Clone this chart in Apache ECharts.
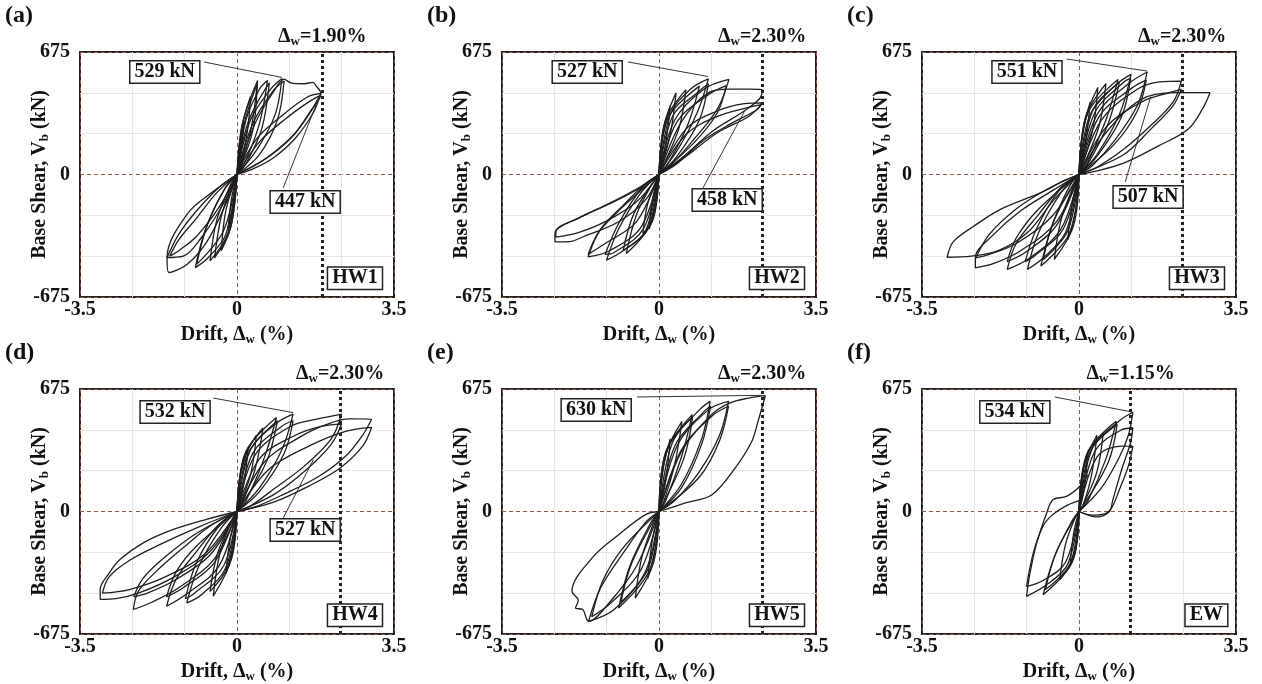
<!DOCTYPE html>
<html>
<head>
<meta charset="utf-8">
<script src="https://cdn.jsdelivr.net/npm/echarts@6/dist/echarts.min.js"></script>
<style>
  html, body { margin: 0; background: #fff; }
  #chart { width: 1262px; height: 684px; }
</style>
</head>
<body>
<div id="chart"></div>
<script>
// axis ticks
const xTicks = [-3.5, 0, 3.5];
const yTicks = [-675, 0, 675];

const panelLetters = ["(a)", "(b)", "(c)", "(d)", "(e)", "(f)"];
const specimens = ["HW1", "HW2", "HW3", "HW4", "HW5", "EW"];
const driftLimits = [1.9, 2.3, 2.3, 2.3, 2.3, 1.15];

// peak labels: [text, box centre, leader start, leader tip]
const hw1Notes = [["529 kN", [-1.61, 565], [-0.74, 620], [1.0, 535]], ["447 kN", [1.52, -152], [1.03, -74], [1.85, 438]]];
const hw2Notes = [["527 kN", [-1.6, 565], [-0.69, 620], [1.09, 540]], ["458 kN", [1.52, -140], [0.98, -74], [1.92, 355]]];
const hw3Notes = [["551 kN", [-1.16, 565], [-0.27, 636], [1.52, 570]], ["507 kN", [1.54, -124], [1.03, -41], [1.6, 430]]];
const hw4Notes = [["532 kN", [-1.38, 548], [-0.53, 625], [1.25, 545]], ["527 kN", [1.52, -102], [1.03, -36], [1.7, 284]]];
const hw5Notes = [["630 kN", [-1.4, 559], [-0.49, 631], [2.3, 640]]];
const ewNotes = [["534 kN", [-1.43, 548], [-0.54, 631], [1.19, 548]]];
const tagPos = [[2.63, -572], [2.63, -572], [2.63, -572], [2.63, -572], [2.63, -572], [2.84, -572]];

// hysteresis loops (drift %, base shear kN)
const hw1Loops = [
  [[0,0],[0.06,160],[0.15,290],[0.1,140],[0,0]],
  [[0,0],[0.1,250],[0.3,430],[0.22,220],[0,0]],
  [[0,0],[0.12,280],[0.46,518],[0.32,260],[0.1,60],[0,0]],
  [[0,0],[0.15,270],[0.45,500],[0.35,240],[0,0]],
  [[0,0],[0.2,300],[0.5,470],[0.68,518],[0.5,280],[0.2,80],[0,0]],
  [[0,0],[0.25,290],[0.72,505],[0.55,250],[0.2,60],[0,0]],
  [[0,0],[0.3,300],[0.75,470],[1.0,529],[0.85,330],[0.45,140],[0,0]],
  [[0,0],[0.35,280],[0.8,460],[1.05,515],[0.9,300],[0.5,110],[0,0]],
  [[0,0],[0.4,280],[0.85,470],[1.05,525],[1.2,505],[1.5,500],[1.69,508],[1.76,490],[1.87,447],[1.65,353],[1.28,224],[0.68,95],[0.23,30],[0,0]],
  [[0,0],[0.45,200],[1.05,334],[1.57,427],[1.87,447],[1.6,330],[1.2,200],[0.6,80],[0,0]],
  [[0,0],[0.5,180],[1.1,310],[1.6,400],[1.85,435],[1.7,340],[1.3,200],[0.8,90],[0.3,25],[0,0]],
  [[0,0],[-0.08,-170],[-0.2,-300],[-0.12,-130],[0,0]],
  [[0,0],[-0.12,-270],[-0.35,-420],[-0.25,-200],[0,0]],
  [[0,0],[-0.15,-300],[-0.5,-460],[-0.35,-230],[-0.1,-50],[0,0]],
  [[0,0],[-0.2,-320],[-0.6,-476],[-0.45,-250],[-0.15,-60],[0,0]],
  [[0,0],[-0.25,-330],[-0.65,-460],[-0.93,-513],[-0.7,-300],[-0.3,-90],[0,0]],
  [[0,0],[-0.3,-310],[-0.9,-495],[-0.65,-270],[-0.25,-70],[0,0]],
  [[0,0],[-0.22,-145],[-0.66,-366],[-1.11,-495],[-1.52,-540],[-1.56,-458],[-1.11,-218],[-0.51,-90],[0,0]],
  [[0,0],[-0.3,-160],[-0.8,-350],[-1.2,-450],[-1.56,-458],[-1.3,-330],[-0.9,-200],[-0.4,-70],[0,0]],
  [[0,0],[-0.4,-180],[-0.9,-340],[-1.3,-420],[-1.5,-450],[-1.3,-360],[-0.9,-240],[-0.45,-100],[0,0]]
];

const hw2Loops = [
  [[0,0],[0.08,200],[0.25,380],[0.15,170],[0,0]],
  [[0,0],[0.1,260],[0.38,450],[0.25,220],[0,0]],
  [[0,0],[0.15,300],[0.6,468],[0.45,260],[0.1,50],[0,0]],
  [[0,0],[0.2,310],[0.9,487],[0.65,280],[0.2,60],[0,0]],
  [[0,0],[0.25,330],[0.7,470],[1.1,527],[0.85,340],[0.4,130],[0,0]],
  [[0,0],[0.3,320],[0.9,460],[1.1,500],[0.9,300],[0.4,100],[0,0]],
  [[0,0],[0.35,300],[1.0,470],[1.56,524],[1.3,360],[0.8,200],[0.3,60],[0,0]],
  [[0,0],[0.4,290],[1.1,440],[1.5,490],[1.3,340],[0.8,180],[0,0]],
  [[0,0],[0.5,290],[1.1,450],[1.56,470],[2.0,470],[2.3,468],[2.25,420],[1.9,350],[1.2,240],[0.5,90],[0,0]],
  [[0,0],[0.6,250],[1.3,350],[1.9,390],[2.3,395],[2.2,360],[1.6,280],[1.0,190],[0.4,60],[0,0]],
  [[0,0],[0.6,220],[1.3,320],[2.0,370],[2.28,385],[2.0,320],[1.3,230],[0.6,100],[0,0]],
  [[0,0],[-0.08,-190],[-0.22,-300],[-0.14,-130],[0,0]],
  [[0,0],[-0.12,-240],[-0.36,-325],[-0.25,-160],[0,0]],
  [[0,0],[-0.2,-280],[-0.73,-435],[-0.5,-220],[-0.15,-50],[0,0]],
  [[0,0],[-0.25,-300],[-0.8,-420],[-0.55,-210],[0,0]],
  [[0,0],[-0.3,-310],[-0.8,-420],[-1.17,-472],[-0.9,-300],[-0.4,-100],[0,0]],
  [[0,0],[-0.35,-300],[-1.0,-430],[-1.2,-440],[-0.9,-270],[-0.4,-80],[0,0]],
  [[0,0],[-0.4,-290],[-1.1,-420],[-1.58,-454],[-1.3,-300],[-0.8,-170],[-0.3,-50],[0,0]],
  [[0,0],[-0.5,-260],[-1.2,-380],[-1.58,-440],[-1.35,-320],[-0.9,-200],[0,0]],
  [[0,0],[-0.3,-140],[-0.9,-260],[-1.69,-343],[-2.0,-370],[-2.32,-371],[-2.32,-325],[-1.7,-230],[-1.0,-150],[-0.4,-70],[0,0]],
  [[0,0],[-0.5,-150],[-1.2,-260],[-1.8,-320],[-2.3,-345],[-2.3,-315],[-1.8,-240],[-1.2,-170],[-0.5,-80],[0,0]]
];

const hw3Loops = [
  [[0,0],[0.08,220],[0.25,400],[0.15,180],[0,0]],
  [[0,0],[0.12,290],[0.42,479],[0.3,240],[0,0]],
  [[0,0],[0.15,320],[0.6,500],[0.45,270],[0.12,60],[0,0]],
  [[0,0],[0.2,340],[0.87,524],[0.6,300],[0.2,70],[0,0]],
  [[0,0],[0.25,330],[0.9,510],[0.65,280],[0.2,60],[0,0]],
  [[0,0],[0.3,350],[0.85,500],[1.16,552],[0.9,330],[0.4,110],[0,0]],
  [[0,0],[0.35,340],[1.0,510],[1.15,530],[0.95,320],[0.4,100],[0,0]],
  [[0,0],[0.4,330],[1.1,500],[1.52,565],[1.3,380],[0.8,190],[0.3,50],[0,0]],
  [[0,0],[0.45,320],[1.2,480],[1.5,520],[1.3,350],[0.8,170],[0,0]],
  [[0,0],[0.5,300],[1.3,470],[1.8,510],[2.28,515],[2.1,400],[1.6,270],[1.0,140],[0.4,40],[0,0]],
  [[0,0],[0.6,260],[1.4,400],[2.0,450],[2.28,469],[2.1,380],[1.6,250],[1.0,110],[0,0]],
  [[0,0],[0.6,230],[1.39,414],[2.13,451],[2.92,451],[2.75,360],[2.43,249],[1.76,156],[1.01,64],[0.4,20],[0,0]],
  [[0,0],[-0.08,-200],[-0.25,-360],[-0.15,-160],[0,0]],
  [[0,0],[-0.12,-280],[-0.55,-467],[-0.4,-250],[-0.1,-50],[0,0]],
  [[0,0],[-0.2,-320],[-0.85,-504],[-0.6,-280],[-0.2,-60],[0,0]],
  [[0,0],[-0.25,-310],[-0.8,-470],[-0.55,-250],[0,0]],
  [[0,0],[-0.3,-320],[-0.8,-460],[-1.15,-523],[-0.9,-320],[-0.4,-100],[0,0]],
  [[0,0],[-0.35,-300],[-1.0,-450],[-1.2,-480],[-0.95,-300],[-0.45,-90],[0,0]],
  [[0,0],[-0.4,-300],[-1.1,-460],[-1.6,-523],[-1.4,-380],[-0.9,-220],[-0.4,-70],[0,0]],
  [[0,0],[-0.5,-280],[-1.2,-430],[-1.6,-480],[-1.4,-350],[-0.9,-190],[0,0]],
  [[0,0],[-0.5,-260],[-1.3,-420],[-1.9,-490],[-2.31,-514],[-2.31,-459],[-1.9,-330],[-1.3,-200],[-0.6,-90],[0,0]],
  [[0,0],[-0.6,-230],[-1.4,-380],[-2.0,-440],[-2.3,-459],[-2.0,-330],[-1.4,-190],[-0.7,-80],[0,0]],
  [[0,0],[-0.55,-137],[-1.15,-320],[-1.8,-420],[-2.4,-450],[-2.94,-456],[-2.8,-370],[-2.34,-284],[-1.75,-192],[-0.85,-100],[-0.3,-30],[0,0]]
];

const hw4Loops = [
  [[0,0],[0.08,200],[0.25,350],[0.15,150],[0,0]],
  [[0,0],[0.12,260],[0.43,420],[0.3,200],[0,0]],
  [[0,0],[0.15,300],[0.58,460],[0.4,230],[0.1,40],[0,0]],
  [[0,0],[0.2,330],[0.88,518],[0.6,290],[0.2,60],[0,0]],
  [[0,0],[0.25,320],[0.9,500],[0.65,270],[0,0]],
  [[0,0],[0.3,340],[0.9,490],[1.25,537],[1.0,340],[0.5,130],[0,0]],
  [[0,0],[0.35,320],[1.0,470],[1.25,500],[1.05,320],[0.5,110],[0,0]],
  [[0,0],[0.4,310],[1.2,470],[1.8,510],[2.33,537],[2.1,400],[1.5,250],[0.8,120],[0.3,30],[0,0]],
  [[0,0],[0.5,290],[1.3,420],[1.9,470],[2.33,482],[2.1,370],[1.5,220],[0.8,90],[0,0]],
  [[0,0],[0.6,270],[1.4,410],[2.0,480],[2.5,510],[3.0,509],[2.8,420],[2.4,300],[1.8,190],[1.0,90],[0.4,25],[0,0]],
  [[0,0],[0.7,230],[1.6,360],[2.4,440],[3.0,463],[2.8,360],[2.3,240],[1.6,140],[0.8,50],[0,0]],
  [[0,0],[-0.08,-200],[-0.25,-340],[-0.15,-150],[0,0]],
  [[0,0],[-0.12,-260],[-0.53,-467],[-0.38,-230],[-0.1,-40],[0,0]],
  [[0,0],[-0.2,-300],[-0.6,-440],[-0.42,-220],[0,0]],
  [[0,0],[-0.25,-310],[-0.8,-460],[-1.12,-503],[-0.85,-300],[-0.35,-90],[0,0]],
  [[0,0],[-0.3,-300],[-1.0,-460],[-1.15,-480],[-0.9,-280],[-0.4,-80],[0,0]],
  [[0,0],[-0.4,-300],[-1.1,-450],[-1.57,-522],[-1.35,-370],[-0.9,-220],[-0.4,-70],[0,0]],
  [[0,0],[-0.5,-280],[-1.2,-420],[-1.57,-470],[-1.35,-330],[-0.9,-190],[0,0]],
  [[0,0],[-0.5,-260],[-1.3,-420],[-1.9,-500],[-2.31,-540],[-2.2,-440],[-1.8,-330],[-1.2,-200],[-0.6,-80],[0,0]],
  [[0,0],[-0.6,-240],[-1.4,-380],[-2.0,-450],[-2.3,-470],[-2.1,-370],[-1.6,-250],[-0.9,-120],[0,0]],
  [[0,0],[-0.6,-220],[-1.4,-360],[-2.2,-450],[-2.7,-480],[-3.05,-484],[-3.05,-429],[-2.85,-340],[-2.61,-265],[-2.09,-173],[-1.42,-99],[-0.68,-43],[0,0]],
  [[0,0],[-0.7,-230],[-1.6,-360],[-2.4,-430],[-3.0,-450],[-2.85,-360],[-2.4,-270],[-1.7,-180],[-0.9,-90],[0,0]]
];

const hw5Loops = [
  [[0,0],[0.08,220],[0.25,400],[0.15,170],[0,0]],
  [[0,0],[0.12,300],[0.51,497],[0.35,260],[0.1,50],[0,0]],
  [[0,0],[0.15,330],[0.74,534],[0.5,300],[0.15,60],[0,0]],
  [[0,0],[0.2,350],[0.75,520],[0.55,290],[0,0]],
  [[0,0],[0.3,380],[0.9,560],[1.14,607],[0.95,400],[0.5,150],[0,0]],
  [[0,0],[0.35,360],[1.0,550],[1.15,580],[0.95,370],[0.5,130],[0,0]],
  [[0,0],[0.4,360],[1.1,560],[1.55,607],[1.35,420],[0.9,220],[0.35,60],[0,0]],
  [[0,0],[0.5,340],[1.2,530],[1.55,580],[1.35,390],[0.9,190],[0,0]],
  [[0,0],[0.5,330],[1.2,540],[1.6,600],[2.0,625],[2.37,638],[2.2,490],[2.07,387],[1.7,240],[1.18,92],[0.59,47],[0,0]],
  [[0,0],[-0.08,-200],[-0.25,-370],[-0.15,-160],[0,0]],
  [[0,0],[-0.12,-280],[-0.53,-477],[-0.38,-250],[-0.1,-50],[0,0]],
  [[0,0],[-0.2,-320],[-0.9,-532],[-0.65,-300],[-0.2,-70],[0,0]],
  [[0,0],[-0.25,-320],[-0.85,-500],[-0.6,-280],[0,0]],
  [[0,0],[-0.3,-330],[-1.0,-540],[-1.57,-605],[-1.3,-420],[-0.8,-230],[-0.3,-60],[0,0]],
  [[0,0],[-0.4,-320],[-1.1,-510],[-1.5,-580],[-1.25,-380],[-0.8,-200],[0,0]],
  [[0,0],[-0.5,-300],[-1.1,-500],[-1.57,-605],[-1.7,-540],[-1.86,-532],[-1.8,-490],[-1.94,-440],[-1.49,-256],[-0.9,-128],[-0.3,-17],[0,0]]
];

const ewLoops = [
  [[0,0],[0.06,180],[0.2,330],[0.12,130],[0,0]],
  [[0,0],[0.1,250],[0.4,420],[0.28,200],[0.1,40],[0,0]],
  [[0,0],[0.15,300],[0.54,432],[0.4,220],[0.1,40],[0,0]],
  [[0,0],[0.2,330],[0.83,497],[0.6,290],[0.2,60],[0,0]],
  [[0,0],[0.25,330],[0.85,480],[0.65,270],[0,0]],
  [[0,0],[0.3,350],[0.9,500],[1.2,547],[1.1,420],[0.9,300],[0.5,130],[0,0]],
  [[0,0],[0.35,330],[0.95,450],[1.2,460],[1.15,380],[0.95,230],[0.75,60],[0.68,0],[0.4,-30],[0,0]],
  [[0,0],[0.4,300],[0.95,360],[1.2,359],[1.1,250],[0.9,120],[0.75,30],[0.6,-10],[0.3,-20],[0,0]],
  [[0,0],[-0.06,-180],[-0.2,-300],[-0.12,-120],[0,0]],
  [[0,0],[-0.1,-240],[-0.43,-376],[-0.3,-180],[-0.08,-30],[0,0]],
  [[0,0],[-0.15,-280],[-0.8,-459],[-0.55,-250],[-0.15,-50],[0,0]],
  [[0,0],[-0.2,-290],[-0.75,-430],[-0.5,-220],[0,0]],
  [[0,0],[-0.25,-290],[-0.7,-400],[-1.17,-468],[-1.1,-350],[-0.95,-180],[-0.72,-8],[-0.58,65],[-0.28,83],[0.02,139],[0.2,200]],
  [[0,0],[-0.3,-280],[-0.8,-380],[-1.17,-413],[-1.02,-229],[-0.8,-80],[-0.6,-20],[-0.3,30],[0,60]]
];

const allLoops = [hw1Loops, hw2Loops, hw3Loops, hw4Loops, hw5Loops, ewLoops];
const allNotes = [hw1Notes, hw2Notes, hw3Notes, hw4Notes, hw5Notes, ewNotes];

const chart = echarts.init(document.getElementById("chart"));
const FONT = "Liberation Serif";
const INK = "#111";
const colLeft = [80, 502, 922];
const rowTop = [52, 389];
const subRich = { s: { fontFamily: FONT, fontWeight: "bold", fontSize: 13, color: INK, padding: [10, 0, 0, 0] } };

const grid = [], xAxis = [], yAxis = [], series = [], graphic = [];

for (let i = 0; i < 6; i++) {
  const left = colLeft[i % 3];
  const top = rowTop[Math.floor(i / 3)];
  grid.push({ left, top, width: 314, height: 245, show: true, borderColor: "#222", borderWidth: 2, backgroundColor: "transparent" });

  const splitStyle = { show: true, lineStyle: { color: "#8b5a4b", type: [4, 3], width: 1 } };
  const minorStyle = { show: true, lineStyle: { color: "#e6e6e6", width: 1 } };
  const tickFont = { fontFamily: FONT, fontWeight: "bold", fontSize: 20, color: INK };

  xAxis.push({
    gridIndex: i, type: "value", min: xTicks[0], max: xTicks[2], interval: xTicks[2],
    axisLine: { show: false }, axisTick: { show: false },
    axisLabel: Object.assign({ margin: 3 }, tickFont),
    splitLine: splitStyle, minorTick: { show: false, splitNumber: 3 }, minorSplitLine: minorStyle,
    name: "Drift, Δ{s|w} (%)", nameLocation: "middle", nameGap: 26, nameMoveOverlap: false,
    nameTextStyle: Object.assign({ rich: subRich }, tickFont)
  });
  yAxis.push({
    gridIndex: i, type: "value", min: yTicks[0], max: yTicks[2], interval: yTicks[2],
    axisLine: { show: false }, axisTick: { show: false },
    axisLabel: Object.assign({ margin: 10 }, tickFont),
    splitLine: splitStyle, minorTick: { show: false, splitNumber: 3 }, minorSplitLine: minorStyle,
    name: "Base Shear, V{s|b} (kN)", nameLocation: "middle", nameGap: 29, nameMoveOverlap: false,
    nameTextStyle: Object.assign({ rich: subRich }, tickFont)
  });

  allLoops[i].forEach((loop, k) => {
    const s = {
      type: "line", xAxisIndex: i, yAxisIndex: i, data: loop,
      showSymbol: false, smooth: 0.35, silent: true, animation: false,
      lineStyle: { color: "#1e1e1e", width: 1.3 }
    };
    if (k === 0) {
      s.markLine = {
        silent: true, symbol: "none", animation: false,
        lineStyle: { color: "#222", type: "dotted", width: 3 },
        label: {
          show: true, position: "end", distance: 4,
          formatter: "Δ{s|w}=" + driftLimits[i].toFixed(2) + "%",
          fontFamily: FONT, fontWeight: "bold", fontSize: 20, color: INK, rich: subRich
        },
        data: [{ xAxis: driftLimits[i] }]
      };
    }
    series.push(s);
  });

  // leader lines and boxed labels
  allNotes[i].forEach(n => {
    series.push({
      type: "line", xAxisIndex: i, yAxisIndex: i, data: [n[2], n[3]],
      showSymbol: false, silent: true, animation: false, z: 3,
      lineStyle: { color: "#333", width: 1 }
    });
  });
  const boxes = allNotes[i].map(n => ({ value: n[1], name: n[0] }));
  boxes.push({ value: tagPos[i], name: specimens[i] });
  series.push({
    type: "scatter", xAxisIndex: i, yAxisIndex: i, data: boxes, symbolSize: 0,
    silent: true, animation: false, z: 5, itemStyle: { opacity: 1 },
    label: {
      show: true, position: "inside", formatter: p => p.name,
      fontFamily: FONT, fontWeight: "bold", fontSize: 20, color: INK,
      textBorderWidth: 0, textBorderColor: "transparent",
      backgroundColor: "#fff", borderColor: "#222", borderWidth: 1.5, padding: [1, 4, 0, 4]
    }
  });

  graphic.push({
    type: "text", left: left - 75, top: top - 48,
    style: { text: panelLetters[i], fontFamily: FONT, fontWeight: "bold", fontSize: 24, fill: INK }
  });
}

chart.setOption({ backgroundColor: "#fff", animation: false, grid, xAxis, yAxis, series, graphic });
</script>
</body>
</html>
